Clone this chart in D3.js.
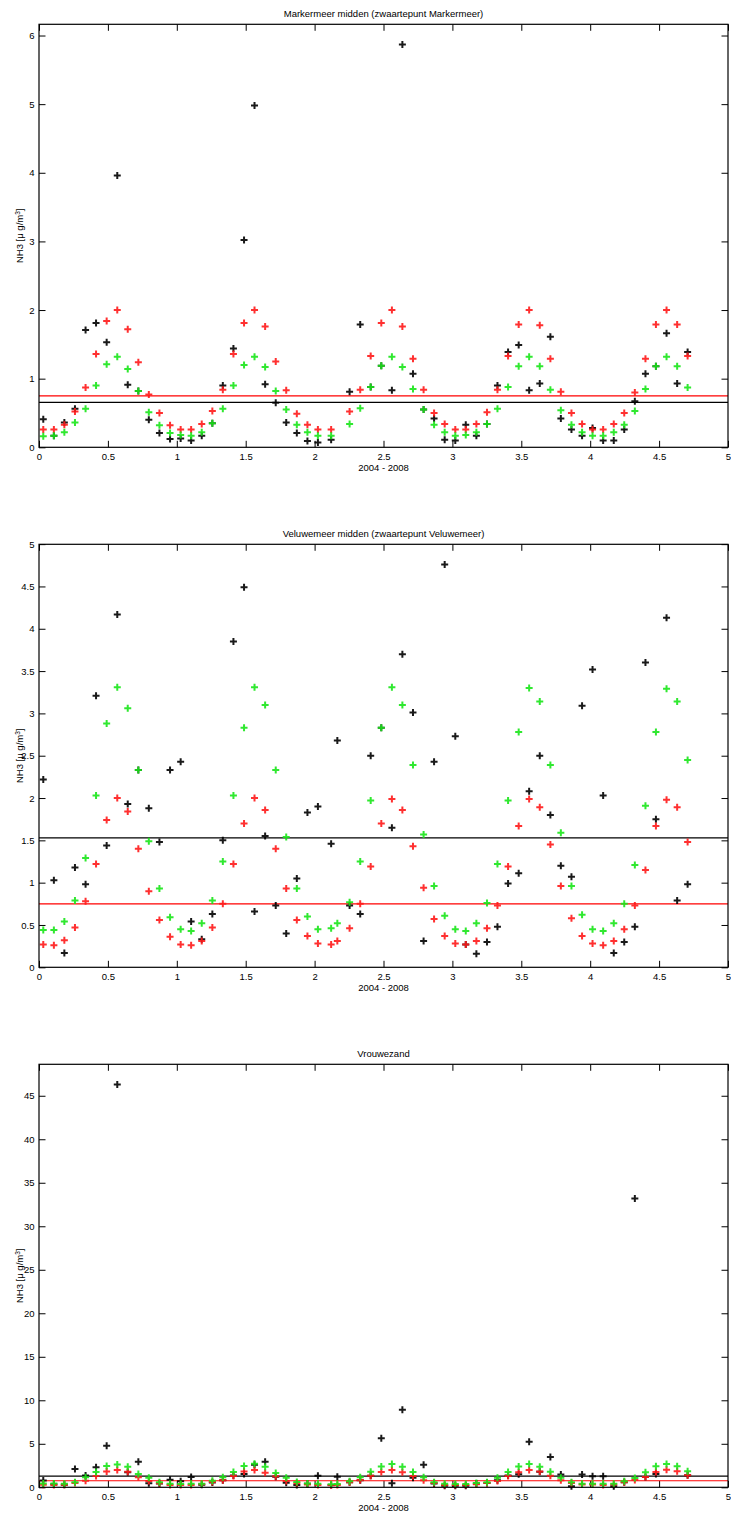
<!DOCTYPE html>
<html>
<head>
<meta charset="utf-8">
<script src="https://cdn.jsdelivr.net/npm/d3@7"></script>
<style>
  html, body { margin: 0; padding: 0; background: #fff; }
  svg { display: block; }
  text { font-family: "Liberation Sans", Arial, Helvetica, sans-serif; fill: #000; }
</style>
</head>
<body>
<div id="chart"></div>
<script>
// Sampling periods (decimal years since start of 2004, 4-week periods)
const periods = [
  0.031, 0.108, 0.184, 0.261, 0.338, 0.414, 0.491, 0.568, 0.644, 0.721, 0.797, 0.874, 0.951,
  1.028, 1.104, 1.181, 1.258, 1.334, 1.411, 1.488, 1.564, 1.641, 1.718, 1.794, 1.871, 1.948,
  2.024, 2.120, 2.165, 2.254, 2.331, 2.407, 2.484, 2.561, 2.637, 2.714, 2.791, 2.867, 2.944,
  3.021, 3.097, 3.174, 3.251, 3.327, 3.404, 3.481, 3.557, 3.634, 3.711, 3.787, 3.864, 3.941,
  4.017, 4.094, 4.171, 4.247, 4.324, 4.401, 4.477, 4.554, 4.631, 4.707
];

const xTicks = [0, 0.5, 1, 1.5, 2, 2.5, 3, 3.5, 4, 4.5, 5];
const xLabel = "2004 - 2008";

// Markermeer midden
const markermeerTitle = "Markermeer midden (zwaartepunt Markermeer)";
const markermeerYTicks = [0, 1, 2, 3, 4, 5, 6];
const markermeerBlack = [
  0.41, 0.17, 0.36, 0.56, 1.71, 1.81, 1.53, 3.96, 0.91, 0.82, 0.40, 0.21, 0.12,
  0.13, 0.10, 0.17, 0.35, 0.90, 1.44, 3.02, 4.98, 0.92, 0.65, 0.36, 0.21, 0.09,
  0.07, 0.11, null, 0.81, 1.79, 0.88, 1.19, 0.83, 5.87, 1.07, 0.55, 0.42, 0.11,
  0.10, 0.33, 0.17, 0.34, 0.90, 1.39, 1.49, 0.83, 0.93, 1.61, 0.42, 0.26, 0.17,
  0.28, 0.10, 0.10, 0.26, 0.67, 1.07, 1.18, 1.66, 0.93, 1.39
];
const markermeerRed = [
  0.26, 0.26, 0.33, 0.52, 0.87, 1.36, 1.84, 2.00, 1.72, 1.24, 0.77, 0.50, 0.32,
  0.26, 0.26, 0.34, 0.53, 0.84, 1.36, 1.81, 2.00, 1.76, 1.25, 0.83, 0.49, 0.33,
  0.26, 0.26, null, 0.52, 0.84, 1.33, 1.81, 2.00, 1.76, 1.29, 0.84, 0.50, 0.34,
  0.26, 0.26, 0.34, 0.51, 0.84, 1.33, 1.79, 2.00, 1.78, 1.29, 0.81, 0.50, 0.34,
  0.26, 0.26, 0.34, 0.50, 0.80, 1.29, 1.79, 2.00, 1.79, 1.33
];
const markermeerGreen = [
  0.16, 0.17, 0.22, 0.36, 0.56, 0.90, 1.21, 1.32, 1.14, 0.82, 0.51, 0.32, 0.21,
  0.18, 0.17, 0.22, 0.35, 0.56, 0.90, 1.20, 1.32, 1.17, 0.82, 0.55, 0.33, 0.22,
  0.17, 0.17, null, 0.34, 0.57, 0.88, 1.19, 1.32, 1.17, 0.85, 0.55, 0.33, 0.22,
  0.17, 0.18, 0.22, 0.34, 0.56, 0.88, 1.18, 1.32, 1.18, 0.84, 0.54, 0.33, 0.22,
  0.17, 0.17, 0.22, 0.33, 0.53, 0.85, 1.18, 1.32, 1.18, 0.87
];
const markermeerRedLevel = 0.75;
const markermeerBlackLevel = 0.655;

// Veluwemeer midden
const veluwemeerTitle = "Veluwemeer midden (zwaartepunt Veluwemeer)";
const veluwemeerYTicks = [0, 0.5, 1, 1.5, 2, 2.5, 3, 3.5, 4, 4.5, 5];
const veluwemeerBlack = [
  2.22, 1.03, 0.17, 1.18, 0.98, 3.21, 1.44, 4.17, 1.93, 2.33, 1.88, 1.48, 2.33,
  2.43, 0.54, 0.33, 0.63, 1.50, 3.85, 4.49, 0.66, 1.55, 0.73, 0.40, 1.05, 1.83,
  1.90, 1.46, 2.68, 0.73, 0.63, 2.50, 2.83, 1.65, 3.70, 3.01, 0.31, 2.43, 4.76,
  2.73, 0.27, 0.16, 0.30, 0.48, 0.99, 1.11, 2.08, 2.50, 1.80, 1.20, 1.07, 3.09,
  3.52, 2.03, 0.17, 0.30, 0.48, 3.60, 1.75, 4.13, 0.79, 0.98
];
const veluwemeerRed = [
  0.27, 0.26, 0.32, 0.47, 0.78, 1.22, 1.74, 2.00, 1.84, 1.40, 0.90, 0.56, 0.36,
  0.27, 0.26, 0.31, 0.47, 0.75, 1.22, 1.70, 2.00, 1.86, 1.40, 0.93, 0.56, 0.37,
  0.28, 0.27, 0.31, 0.46, 0.75, 1.19, 1.70, 1.99, 1.86, 1.43, 0.94, 0.57, 0.37,
  0.28, 0.27, 0.31, 0.46, 0.73, 1.19, 1.67, 1.99, 1.89, 1.45, 0.96, 0.58, 0.37,
  0.28, 0.26, 0.31, 0.45, 0.73, 1.15, 1.67, 1.98, 1.89, 1.48
];
const veluwemeerGreen = [
  0.44, 0.44, 0.54, 0.79, 1.29, 2.03, 2.88, 3.31, 3.06, 2.33, 1.49, 0.93, 0.59,
  0.45, 0.43, 0.52, 0.79, 1.25, 2.03, 2.83, 3.31, 3.10, 2.33, 1.54, 0.93, 0.60,
  0.45, 0.46, 0.52, 0.77, 1.25, 1.97, 2.83, 3.31, 3.10, 2.39, 1.57, 0.96, 0.61,
  0.45, 0.43, 0.52, 0.76, 1.22, 1.97, 2.78, 3.30, 3.14, 2.39, 1.59, 0.96, 0.62,
  0.45, 0.43, 0.52, 0.75, 1.21, 1.91, 2.78, 3.29, 3.14, 2.45
];
const veluwemeerRedLevel = 0.75;
const veluwemeerBlackLevel = 1.53;

// Vrouwezand
const vrouwezandTitle = "Vrouwezand";
const vrouwezandYTicks = [0, 5, 10, 15, 20, 25, 30, 35, 40, 45];
const vrouwezandBlack = [
  0.78, 0.35, 0.30, 2.10, 1.37, 2.29, 4.77, 46.3, 1.72, 2.94, 0.46, 0.45, 0.88,
  0.69, 1.18, 0.30, 0.55, 0.80, 1.37, 1.53, 2.60, 2.94, 1.20, 0.53, 0.27, 0.40,
  1.34, 0.27, 1.22, 0.57, 0.80, 1.34, 5.65, 0.46, 8.90, 1.11, 2.60, 0.45, 0.19,
  0.19, 0.19, 0.45, 0.50, 0.80, 1.37, 1.49, 5.23, 1.79, 3.47, 1.46, 0.11, 1.46,
  1.26, 1.26, 0.11, 0.57, 33.2, 1.19, 1.53, null, null, 1.38
];
const vrouwezandRed = [
  0.30, 0.27, 0.30, 0.50, 0.76, 1.30, 1.83, 1.98, 1.79, 1.15, 0.73, 0.46, 0.27,
  0.27, 0.27, 0.35, 0.61, 0.80, 1.30, 1.83, 2.00, 1.68, 1.26, 0.73, 0.46, 0.31,
  0.27, 0.23, 0.27, 0.57, 0.84, 1.34, 1.76, 1.98, 1.72, 1.30, 0.80, 0.50, 0.27,
  0.27, 0.27, 0.35, 0.50, 0.73, 1.30, 1.72, 1.98, 1.83, 1.34, 0.80, 0.50, 0.31,
  0.31, 0.27, 0.31, 0.57, 0.84, 1.19, 1.76, 2.03, 1.84, 1.38
];
const vrouwezandGreen = [
  0.45, 0.45, 0.42, 0.57, 1.15, 1.76, 2.44, 2.63, 2.37, 1.53, 1.11, 0.57, 0.42,
  0.38, 0.42, 0.42, 0.76, 1.15, 1.76, 2.44, 2.71, 2.37, 1.64, 1.11, 0.61, 0.45,
  0.42, 0.35, 0.38, 0.69, 1.15, 1.79, 2.40, 2.67, 2.37, 1.76, 1.15, 0.57, 0.42,
  0.38, 0.38, 0.50, 0.57, 1.11, 1.76, 2.40, 2.67, 2.37, 1.79, 1.11, 0.57, 0.42,
  0.42, 0.42, 0.42, 0.69, 1.07, 1.72, 2.41, 2.68, 2.41, 1.84
];
const vrouwezandRedLevel = 0.75;
const vrouwezandBlackLevel = 1.28;

const panels = [
  { title: markermeerTitle, yTicks: markermeerYTicks, black: markermeerBlack, red: markermeerRed,
    green: markermeerGreen, redLevel: markermeerRedLevel, blackLevel: markermeerBlackLevel },
  { title: veluwemeerTitle, yTicks: veluwemeerYTicks, black: veluwemeerBlack, red: veluwemeerRed,
    green: veluwemeerGreen, redLevel: veluwemeerRedLevel, blackLevel: veluwemeerBlackLevel },
  { title: vrouwezandTitle, yTicks: vrouwezandYTicks, black: vrouwezandBlack, red: vrouwezandRed,
    green: vrouwezandGreen, redLevel: vrouwezandRedLevel, blackLevel: vrouwezandBlackLevel }
];

const W = 731, H = 1515;
const left = 39, right = 728;
const panelTop0 = 24.3, panelStep = 520, panelH = 423;
const tickLen = 6.5;
const fontSize = 9.5;

const svg = d3.select("#chart").append("svg")
  .attr("width", W).attr("height", H)
  .attr("viewBox", `0 0 ${W} ${H}`);
svg.append("rect").attr("width", W).attr("height", H).attr("fill", "#fff");

const x = d3.scaleLinear().domain([0, 5]).range([left, right]);
const crossPath = "M-3.5,0H3.5M0,-3.5V3.5";
const fmt = d => String(+d.toFixed(2));

panels.forEach((p, k) => {
  const top = panelTop0 + k * panelStep;
  const bottom = top + panelH;
  const allVals = [...p.black, ...p.red, ...p.green].filter(v => v != null);
  const y = d3.scaleLinear().domain([0, d3.max(allVals) * 1.05]).range([bottom, top]);

  const g = svg.append("g");

  // Axes on all four sides, ticks pointing inward
  const xAxisB = d3.axisBottom(x).tickValues(xTicks).tickFormat(fmt).tickSizeInner(-tickLen).tickSizeOuter(0).tickPadding(5.5);
  const gxb = g.append("g").attr("transform", `translate(0,${bottom})`).call(xAxisB);
  const xAxisT = d3.axisTop(x).tickValues(xTicks).tickFormat("").tickSizeInner(-tickLen).tickSizeOuter(0);
  const gxt = g.append("g").attr("transform", `translate(0,${top})`).call(xAxisT);

  const yAxisL = d3.axisLeft(y).tickValues(p.yTicks).tickFormat(fmt).tickSizeInner(-tickLen).tickSizeOuter(0).tickPadding(4.5);
  const gyl = g.append("g").attr("transform", `translate(${left},0)`).call(yAxisL);
  const yAxisR = d3.axisRight(y).tickValues(p.yTicks).tickFormat("").tickSizeInner(-tickLen).tickSizeOuter(0);
  const gyr = g.append("g").attr("transform", `translate(${right},0)`).call(yAxisR);

  [gxb, gxt, gyl, gyr].forEach(a => {
    a.select(".domain").remove();
    a.selectAll(".tick line").attr("stroke", "#000").attr("stroke-width", 1);
    a.selectAll(".tick text").attr("font-size", fontSize).attr("fill", "#222")
      .attr("font-family", "'Liberation Sans', Arial, sans-serif");
  });

  // Reference levels
  g.append("line").attr("x1", left).attr("x2", right)
    .attr("y1", y(p.redLevel)).attr("y2", y(p.redLevel))
    .attr("stroke", "#ff0000").attr("stroke-width", 1.2);
  g.append("line").attr("x1", left).attr("x2", right)
    .attr("y1", y(p.blackLevel)).attr("y2", y(p.blackLevel))
    .attr("stroke", "#000").attr("stroke-width", 1.2);

  // Measurement series
  const series = [
    { vals: p.black, color: "#000000" },
    { vals: p.red, color: "#ff1a1a" },
    { vals: p.green, color: "#19e619" }
  ];
  series.forEach(s => {
    const pts = periods.map((t, i) => ({ t, v: s.vals[i] })).filter(d => d.v != null);
    g.append("g").selectAll("path").data(pts).join("path")
      .attr("d", crossPath)
      .attr("transform", d => `translate(${x(d.t)},${y(d.v)})`)
      .attr("fill", "none")
      .attr("stroke", s.color)
      .attr("stroke-width", 2)
      .attr("opacity", 0.9);
  });

  // Axes box
  g.append("rect").attr("x", left).attr("y", top)
    .attr("width", right - left).attr("height", bottom - top)
    .attr("fill", "none").attr("stroke", "#000").attr("stroke-width", 1.2);

  // Title, axis labels
  g.append("text").attr("x", (left + right) / 2).attr("y", top - 7)
    .attr("text-anchor", "middle").attr("font-size", fontSize).text(p.title);
  g.append("text").attr("x", (left + right) / 2).attr("y", bottom + 24)
    .attr("text-anchor", "middle").attr("font-size", fontSize).text(xLabel);

  const yl = g.append("text")
    .attr("transform", `translate(${left - 16},${(top + bottom) / 2}) rotate(-90)`)
    .attr("text-anchor", "middle").attr("font-size", fontSize);
  yl.append("tspan").text("NH3 [\u03bc g/m");
  yl.append("tspan").attr("font-size", 6.5).attr("dy", -3.5).text("3");
  yl.append("tspan").attr("dy", 3.5).text("]");
});
</script>
</body>
</html>
